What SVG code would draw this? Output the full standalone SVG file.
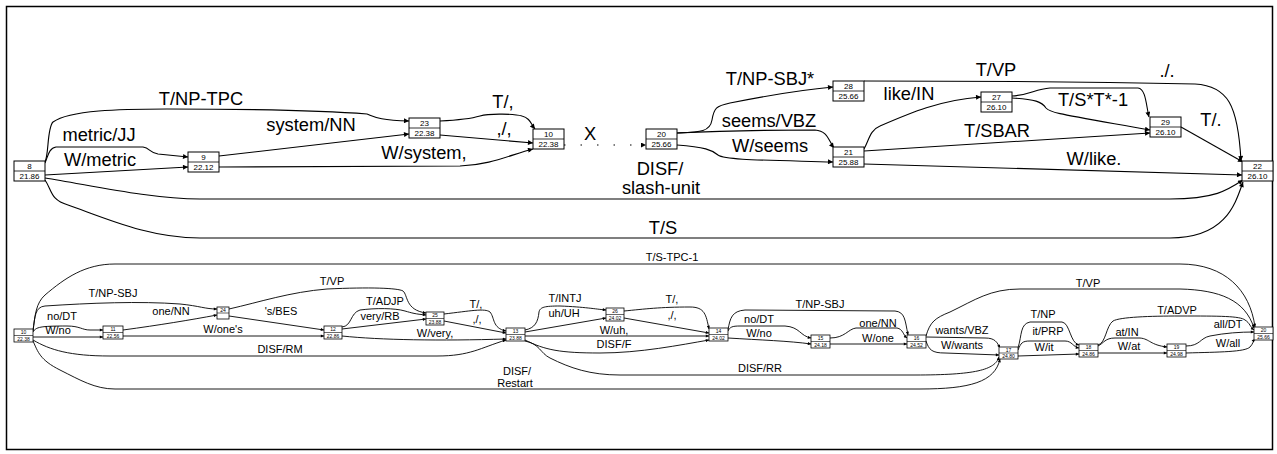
<svg xmlns="http://www.w3.org/2000/svg" width="1277" height="454" viewBox="0 0 1277 454">
<style>
.frame{fill:none;stroke:#000;stroke-width:1.5}
.nb{fill:#fff;stroke:#000;stroke-width:1}
.nbs{fill:#fff;stroke:#000;stroke-width:0.8}
.nt{font-family:"Liberation Sans",Arial,sans-serif;font-size:8px;text-anchor:middle;fill:#000}
.nts{font-family:"Liberation Sans",Arial,sans-serif;font-size:5px;text-anchor:middle;fill:#000}
.e{fill:none;stroke:#000;stroke-width:1.1;marker-end:url(#ah)}
.es{fill:none;stroke:#000;stroke-width:0.9;marker-end:url(#as)}
.dot{stroke-dasharray:1.5,15}
.lb{font-family:"Liberation Sans",Arial,sans-serif;font-size:18.3px;text-anchor:middle;fill:#000}
.ls{font-family:"Liberation Sans",Arial,sans-serif;font-size:11px;text-anchor:middle;fill:#000}
</style>
<defs>
<marker id="ah" viewBox="0 0 10 10" refX="10" refY="5" markerWidth="7" markerHeight="5" markerUnits="userSpaceOnUse" orient="auto"><path d="M0,0 L10,5 L0,10 z" fill="#000"/></marker>
<marker id="as" viewBox="0 0 10 10" refX="10" refY="5" markerWidth="4.5" markerHeight="3.2" markerUnits="userSpaceOnUse" orient="auto"><path d="M0,0 L10,5 L0,10 z" fill="#000"/></marker>
</defs>
<rect class="frame" x="6.5" y="6.5" width="1266" height="443" fill="#fff"/>

<g id="connectors">
<path class="e" d="M45,162 C49,154 47,128 53,122 C70,110 120,109 167,109 C250,109 330,111 367,114 C375,117 378,120 409,121"/>
<path class="e" d="M45,163 C48,156 49,148 56,147 L143,147 C150,148 150,153 158,154 L188,157"/>
<path class="e" d="M45,175 L188,167"/>
<path class="e" d="M219,156 L409,134"/>
<path class="e" d="M219,167 L460,166 C490,165 510,155 533,149"/>
<path class="e" d="M440,121 C460,120 470,119 480,116 C490,113 515,114 522,116 C530,118 531,124 535,129"/>
<path class="e" d="M440,135 L533,143"/>
<path class="e dot" d="M564,145 L646,145"/>
<path class="e" d="M45,178 C90,185 150,199 200,199 L1170,199 C1215,199 1228,190 1243,180"/>
<path class="e" d="M45,180 C52,190 50,200 68,205 C110,220 150,238 200,238 L1170,238 C1225,238 1235,205 1243,182"/>
<path class="e" d="M677,133 C700,132 710,132 712,120 C714,108 716,106 730,103 C770,95 800,90 833,87"/>
<path class="e" d="M677,133 C720,131 780,130 815,130 C828,131 828,140 834,148"/>
<path class="e" d="M677,145 C705,147 712,150 718,155 C725,160 760,160 833,162"/>
<path class="e" d="M864,81 C950,81 1100,82 1195,84 C1228,86 1238,105 1241,161"/>
<path class="e" d="M1012,96 C1030,95 1035,89 1050,88 L1138,88 C1146,89 1146,105 1149,117"/>
<path class="e" d="M864,149 C869,140 870,130 880,126 C910,113 940,100 981,97"/>
<path class="e" d="M864,151 L1150,133"/>
<path class="e" d="M864,164 L1242,175"/>
<path class="e" d="M1012,98 C1035,99 1042,102 1046,108 C1050,113 1060,114 1150,130"/>
<path class="e" d="M1181,127 L1243,162"/>

<path class="es" d="M33,331 C35,315 36,303 45,295 C65,278 85,264 115,264 L1180,264 C1225,264 1250,290 1255,327"/>
<path class="es" d="M33,331 C35,316 35,307 45,306 C90,303 140,301 180,304 C200,306 205,309 217,309"/>
<path class="es" d="M33,332 C36,327 40,326 67,326 C80,326 82,330 90,330 L103,330"/>
<path class="es" d="M33,337 L103,337"/>
<path class="es" d="M33,340 C50,350 70,356 110,356 L437,356 C470,356 480,348 506,340"/>
<path class="es" d="M33,341 C38,352 40,360 60,370 C80,380 95,389 115,389 L920,389 C970,389 995,382 1000,359"/>
<path class="es" d="M123,330 C160,325 190,320 217,315"/>
<path class="es" d="M123,336 L324,336"/>
<path class="es" d="M229,316 L324,330"/>
<path class="es" d="M229,309 C260,302 290,292 327,289 C370,287 398,288 403,291 C408,295 405,310 426,313"/>
<path class="es" d="M342,327 C352,326 350,313 360,310 C375,308 395,308 405,311 C412,313 415,314 426,315"/>
<path class="es" d="M342,329 L426,319"/>
<path class="es" d="M342,336 C380,340 440,341 506,339"/>
<path class="es" d="M444,314 C470,311 485,308 490,312 C495,318 492,328 506,331"/>
<path class="es" d="M444,321 L506,333"/>
<path class="es" d="M525,330 C535,328 538,322 539,312 C540,307 545,306 560,306 C585,307 595,309 606,310"/>
<path class="es" d="M525,332 L606,318"/>
<path class="es" d="M525,336 L709,336"/>
<path class="es" d="M525,340 C545,350 560,353 600,353 C640,353 680,345 709,340"/>
<path class="es" d="M525,341 C540,344 540,353 550,358 C570,368 590,375 620,375 L915,375 C975,375 995,370 999,357"/>
<path class="es" d="M624,311 C645,309 660,307 690,307 C705,307 706,315 709,329"/>
<path class="es" d="M624,318 L709,333"/>
<path class="es" d="M728,330 C730,318 732,311 745,310 L895,311 C905,312 905,320 908,335"/>
<path class="es" d="M728,331 C730,327 732,326 740,326 L785,326 C800,327 800,336 811,338"/>
<path class="es" d="M728,338 C760,340 790,341 811,344"/>
<path class="es" d="M830,338 C845,338 848,329 856,328 L897,328 C903,329 903,335 907,338"/>
<path class="es" d="M830,344 L907,344"/>
<path class="es" d="M926,336 C930,322 935,318 950,312 C975,300 990,289 1020,289 L1180,289 C1220,290 1245,300 1254,328"/>
<path class="es" d="M926,337 L985,338 C995,338 997,342 1000,348"/>
<path class="es" d="M926,341 C929,350 932,353 945,353 L999,355"/>
<path class="es" d="M1018,348 C1022,335 1020,324 1030,322 L1062,322 C1070,323 1070,343 1079,345"/>
<path class="es" d="M1018,350 C1021,343 1022,341 1030,341 L1065,341 C1072,341 1073,347 1079,348"/>
<path class="es" d="M1018,356 L1079,354"/>
<path class="es" d="M1098,345 C1106,343 1106,326 1113,321 C1120,317 1150,316 1180,316 C1220,316 1240,316 1245,320 C1250,323 1250,327 1254,330"/>
<path class="es" d="M1098,346 C1104,343 1105,338 1115,338 L1140,338 C1150,339 1150,345 1167,347"/>
<path class="es" d="M1098,353 L1167,353"/>
<path class="es" d="M1186,346 C1200,346 1200,338 1210,336 C1225,333 1240,332 1254,332"/>
<path class="es" d="M1186,353 C1220,352 1245,352 1250,347 C1253,344 1253,341 1255,339"/>
</g>

<g id="labels">
<text class="lb" x="201" y="105">T/NP-TPC</text>
<text class="lb" x="99" y="141">metric/JJ</text>
<text class="lb" x="100" y="166">W/metric</text>
<text class="lb" x="311" y="131">system/NN</text>
<text class="lb" x="424" y="159">W/system,</text>
<text class="lb" x="503" y="108">T/,</text>
<text class="lb" x="504" y="135">,/,</text>
<text class="lb" x="590" y="140">X</text>
<text class="lb" x="660" y="175">DISF/</text>
<text class="lb" x="661" y="194">slash-unit</text>
<text class="lb" x="663" y="234">T/S</text>
<text class="lb" x="770" y="85">T/NP-SBJ*</text>
<text class="lb" x="769" y="127">seems/VBZ</text>
<text class="lb" x="770" y="152">W/seems</text>
<text class="lb" x="909" y="100">like/IN</text>
<text class="lb" x="996" y="76">T/VP</text>
<text class="lb" x="1167" y="77">./.</text>
<text class="lb" x="1093" y="106">T/S*T*-1</text>
<text class="lb" x="997" y="137">T/SBAR</text>
<text class="lb" x="1094" y="165">W/like.</text>
<text class="lb" x="1211" y="126">T/.</text>

<text class="ls" x="672" y="261">T/S-TPC-1</text>
<text class="ls" x="113" y="297">T/NP-SBJ</text>
<text class="ls" x="62" y="320">no/DT</text>
<text class="ls" x="58" y="334">W/no</text>
<text class="ls" x="171" y="315">one/NN</text>
<text class="ls" x="223" y="333">W/one's</text>
<text class="ls" x="281" y="315">'s/BES</text>
<text class="ls" x="280" y="353">DISF/RM</text>
<text class="ls" x="332" y="285">T/VP</text>
<text class="ls" x="385" y="305">T/ADJP</text>
<text class="ls" x="380" y="320">very/RB</text>
<text class="ls" x="435" y="337">W/very,</text>
<text class="ls" x="476" y="308">T/,</text>
<text class="ls" x="477" y="323">,/,</text>
<text class="ls" x="517" y="375">DISF/</text>
<text class="ls" x="515" y="387">Restart</text>
<text class="ls" x="565" y="302">T/INTJ</text>
<text class="ls" x="564" y="317">uh/UH</text>
<text class="ls" x="614" y="334">W/uh,</text>
<text class="ls" x="614" y="348">DISF/F</text>
<text class="ls" x="672" y="303">T/,</text>
<text class="ls" x="672" y="319">,/,</text>
<text class="ls" x="760" y="372">DISF/RR</text>
<text class="ls" x="820" y="308">T/NP-SBJ</text>
<text class="ls" x="759" y="323">no/DT</text>
<text class="ls" x="759" y="337">W/no</text>
<text class="ls" x="878" y="327">one/NN</text>
<text class="ls" x="878" y="342">W/one</text>
<text class="ls" x="962" y="334">wants/VBZ</text>
<text class="ls" x="962" y="349">W/wants</text>
<text class="ls" x="1088" y="287">T/VP</text>
<text class="ls" x="1043" y="318">T/NP</text>
<text class="ls" x="1048" y="335">it/PRP</text>
<text class="ls" x="1044" y="351">W/it</text>
<text class="ls" x="1177" y="314">T/ADVP</text>
<text class="ls" x="1127" y="336">at/IN</text>
<text class="ls" x="1129" y="350">W/at</text>
<text class="ls" x="1228" y="328">all/DT</text>
<text class="ls" x="1228" y="347">W/all</text>
</g>

<g id="n8"><rect class="nb" x="14" y="161" width="31" height="20"/><line x1="14" y1="171" x2="45" y2="171" stroke="#000" stroke-width="0.8"/><text class="nt" x="29.5" y="169">8</text><text class="nt" x="29.5" y="179">21.86</text></g>
<g id="n9"><rect class="nb" x="188" y="152" width="31" height="20"/><line x1="188" y1="162" x2="219" y2="162" stroke="#000" stroke-width="0.8"/><text class="nt" x="203.5" y="160">9</text><text class="nt" x="203.5" y="170">22.12</text></g>
<g id="n23"><rect class="nb" x="409" y="118" width="31" height="20"/><line x1="409" y1="128" x2="440" y2="128" stroke="#000" stroke-width="0.8"/><text class="nt" x="424.5" y="126">23</text><text class="nt" x="424.5" y="136">22.38</text></g>
<g id="n10"><rect class="nb" x="533" y="129" width="31" height="20"/><line x1="533" y1="139" x2="564" y2="139" stroke="#000" stroke-width="0.8"/><text class="nt" x="548.5" y="137">10</text><text class="nt" x="548.5" y="147">22.38</text></g>
<g id="n20"><rect class="nb" x="646" y="129" width="31" height="20"/><line x1="646" y1="139" x2="677" y2="139" stroke="#000" stroke-width="0.8"/><text class="nt" x="661.5" y="137">20</text><text class="nt" x="661.5" y="147">25.66</text></g>
<g id="n28"><rect class="nb" x="833" y="81" width="31" height="20"/><line x1="833" y1="91" x2="864" y2="91" stroke="#000" stroke-width="0.8"/><text class="nt" x="848.5" y="89">28</text><text class="nt" x="848.5" y="99">25.66</text></g>
<g id="n21"><rect class="nb" x="833" y="147" width="31" height="20"/><line x1="833" y1="157" x2="864" y2="157" stroke="#000" stroke-width="0.8"/><text class="nt" x="848.5" y="155">21</text><text class="nt" x="848.5" y="165">25.88</text></g>
<g id="n27"><rect class="nb" x="981" y="92" width="31" height="20"/><line x1="981" y1="102" x2="1012" y2="102" stroke="#000" stroke-width="0.8"/><text class="nt" x="996.5" y="100">27</text><text class="nt" x="996.5" y="110">26.10</text></g>
<g id="n29"><rect class="nb" x="1150" y="117" width="31" height="20"/><line x1="1150" y1="127" x2="1181" y2="127" stroke="#000" stroke-width="0.8"/><text class="nt" x="1165.5" y="125">29</text><text class="nt" x="1165.5" y="135">26.10</text></g>
<g id="n22"><rect class="nb" x="1242" y="161" width="31" height="20"/><line x1="1242" y1="171" x2="1273" y2="171" stroke="#000" stroke-width="0.8"/><text class="nt" x="1257.5" y="169">22</text><text class="nt" x="1257.5" y="179">26.10</text></g>

<g id="b10"><rect class="nbs" x="14" y="329" width="19" height="13"/><line x1="14" y1="335.5" x2="33" y2="335.5" stroke="#000" stroke-width="0.6"/><text class="nts" x="23.5" y="334">10</text><text class="nts" x="23.5" y="340.5">22.38</text></g>
<g id="b11"><rect class="nbs" x="103" y="326" width="20" height="13"/><line x1="103" y1="332.5" x2="123" y2="332.5" stroke="#000" stroke-width="0.6"/><text class="nts" x="113" y="331">11</text><text class="nts" x="113" y="337.5">22.56</text></g>
<g id="b24"><rect class="nbs" x="217" y="307" width="12" height="12"/><line x1="217" y1="313" x2="229" y2="313" stroke="#000" stroke-width="0.6"/><text class="nts" x="223" y="312">24</text></g>
<g id="b12"><rect class="nbs" x="324" y="326" width="18" height="13"/><line x1="324" y1="332.5" x2="342" y2="332.5" stroke="#000" stroke-width="0.6"/><text class="nts" x="333" y="331">12</text><text class="nts" x="333" y="337.5">22.86</text></g>
<g id="b25"><rect class="nbs" x="426" y="312" width="18" height="13"/><line x1="426" y1="318.5" x2="444" y2="318.5" stroke="#000" stroke-width="0.6"/><text class="nts" x="435" y="317">25</text><text class="nts" x="435" y="323.5">23.88</text></g>
<g id="b13"><rect class="nbs" x="506" y="328" width="19" height="13"/><line x1="506" y1="334.5" x2="525" y2="334.5" stroke="#000" stroke-width="0.6"/><text class="nts" x="515.5" y="333">13</text><text class="nts" x="515.5" y="339.5">23.88</text></g>
<g id="b26"><rect class="nbs" x="606" y="308" width="18" height="13"/><line x1="606" y1="314.5" x2="624" y2="314.5" stroke="#000" stroke-width="0.6"/><text class="nts" x="615" y="313">26</text><text class="nts" x="615" y="319.5">24.02</text></g>
<g id="b14"><rect class="nbs" x="709" y="328" width="19" height="13"/><line x1="709" y1="334.5" x2="728" y2="334.5" stroke="#000" stroke-width="0.6"/><text class="nts" x="718.5" y="333">14</text><text class="nts" x="718.5" y="339.5">24.02</text></g>
<g id="b15"><rect class="nbs" x="811" y="335" width="19" height="13"/><line x1="811" y1="341.5" x2="830" y2="341.5" stroke="#000" stroke-width="0.6"/><text class="nts" x="820.5" y="340">15</text><text class="nts" x="820.5" y="346.5">24.18</text></g>
<g id="b16"><rect class="nbs" x="907" y="335" width="19" height="13"/><line x1="907" y1="341.5" x2="926" y2="341.5" stroke="#000" stroke-width="0.6"/><text class="nts" x="916.5" y="340">16</text><text class="nts" x="916.5" y="346.5">24.52</text></g>
<g id="b17"><rect class="nbs" x="999" y="347" width="19" height="12"/><line x1="999" y1="353" x2="1018" y2="353" stroke="#000" stroke-width="0.6"/><text class="nts" x="1008.5" y="351.8">17</text><text class="nts" x="1008.5" y="357.8">24.80</text></g>
<g id="b18"><rect class="nbs" x="1079" y="344" width="19" height="13"/><line x1="1079" y1="350.5" x2="1098" y2="350.5" stroke="#000" stroke-width="0.6"/><text class="nts" x="1088.5" y="349">18</text><text class="nts" x="1088.5" y="355.5">24.86</text></g>
<g id="b19"><rect class="nbs" x="1167" y="344" width="19" height="13"/><line x1="1167" y1="350.5" x2="1186" y2="350.5" stroke="#000" stroke-width="0.6"/><text class="nts" x="1176.5" y="349">19</text><text class="nts" x="1176.5" y="355.5">24.98</text></g>
<g id="b20"><rect class="nbs" x="1254" y="327" width="19" height="13"/><line x1="1254" y1="333.5" x2="1273" y2="333.5" stroke="#000" stroke-width="0.6"/><text class="nts" x="1263.5" y="332">20</text><text class="nts" x="1263.5" y="338.5">25.66</text></g>
</svg>
